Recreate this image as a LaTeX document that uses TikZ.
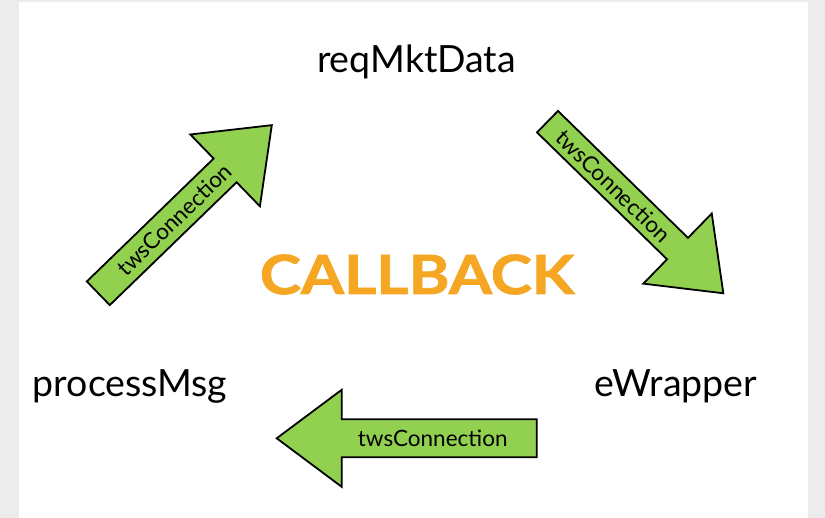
\documentclass[tikz,border=0pt]{standalone}
\usepackage{fontspec}
\setmainfont{Lato}
\newfontfamily\callfont[FakeBold=1.5,FakeStretch=1.15]{Lato}
\usetikzlibrary{positioning}

\definecolor{arrowgreen}{RGB}{146,208,80}
\definecolor{callorange}{RGB}{245,166,35}
\definecolor{edgegray}{RGB}{236,236,236}

\begin{document}
\begin{tikzpicture}[
  x=1pt,
  y=1pt,
  step name/.style={font=\fontsize{37.5}{42}\selectfont, inner sep=0pt, anchor=base},
  body/.style={draw=black, fill=arrowgreen, line width=1.8pt, line join=miter},
  wire/.style={font=\fontsize{22.5}{26}\selectfont, inner sep=0pt}
]
  \useasboundingbox (0,0) rectangle (825,518);
  \fill[edgegray] (0,0) rectangle (19,518);
  \fill[edgegray] (808,0) rectangle (825,518);
  \fill[edgegray] (0,516) rectangle (825,518);

  \node[step name] (req) at (416.5,445) {reqMktData};
  \node[step name] (ewrap) at (676,121) {eWrapper};
  \node[step name] (proc) at (130,121) {processMsg};
  \node[font=\fontsize{54}{60}\callfont\bfseries, text=callorange, inner sep=0pt, anchor=base]
    (callback) at (417,224) {CALLBACK};

  % processMsg -> reqMktData
  \begin{scope}[shift={(98.3,224.7)}, rotate=44.1]
    \draw[body] (0,-16.5) -- (176.6,-16.5) -- (176.6,-50) -- (241.6,0)
      -- (176.6,50) -- (176.6,16.5) -- (0,16.5) -- cycle;
    \node[wire, rotate=44.1] (lab1) at (106,0) {twsConnection};
  \end{scope}

  % reqMktData -> eWrapper
  \begin{scope}[shift={(547.5,396.3)}, rotate=-44.3]
    \draw[body] (0,-15) -- (181.7,-15) -- (181.7,-49) -- (245.7,0)
      -- (181.7,49) -- (181.7,15) -- (0,15) -- cycle;
    \node[wire, rotate=-44.3] (lab2) at (92,0) {twsConnection};
  \end{scope}

  % eWrapper -> processMsg
  \begin{scope}[shift={(536.7,79.7)}, rotate=180]
    \draw[body] (0,-19) -- (195,-19) -- (195,-48.5) -- (260,0)
      -- (195,48.5) -- (195,19) -- (0,19) -- cycle;
    \node[wire] (lab3) at (104,0) {twsConnection};
  \end{scope}
\end{tikzpicture}
\end{document}
